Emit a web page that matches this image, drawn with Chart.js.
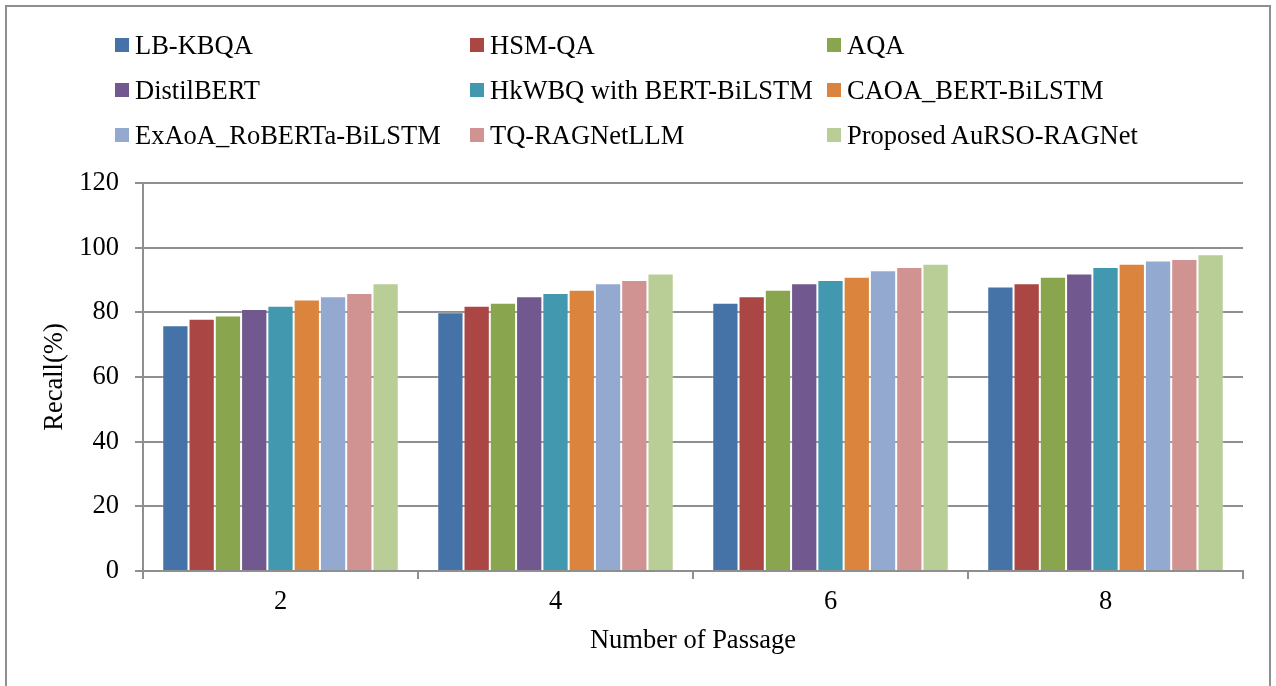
<!DOCTYPE html>
<html>
<head>
<meta charset="utf-8">
<script src="https://cdn.jsdelivr.net/npm/chart.js@4/dist/chart.umd.min.js"></script>
<style>
  html, body { margin: 0; padding: 0; background: #fff; }
  #wrap { position: relative; width: 1276px; height: 686px; overflow: hidden; }
  #frame {
    position: absolute; left: 5px; top: 5px; width: 1266px; height: 700px;
    border: 2px solid #8f8f8f; box-sizing: border-box;
  }
  #chart { position: absolute; left: 0; top: 0; }
  #legend { position: absolute; left: 0; top: 0; }
  .legend-item {
    position: absolute; display: flex; align-items: center; height: 30px;
    font-family: "Liberation Serif", "Times New Roman", serif; font-size: 26.5px;
    line-height: 30px; color: #000; white-space: nowrap;
  }
  .legend-box { width: 14px; height: 14px; margin-right: 6px; }
</style>
</head>
<body>
<div id="wrap">
  <div id="frame"></div>
  <canvas id="chart" width="1276" height="686"></canvas>
  <div id="legend"></div>
</div>
<script>
const categories = ['2', '4', '6', '8'];

const seriesNames = [
  'LB-KBQA', 'HSM-QA', 'AQA',
  'DistilBERT', 'HkWBQ with BERT-BiLSTM', 'CAOA_BERT-BiLSTM',
  'ExAoA_RoBERTa-BiLSTM', 'TQ-RAGNetLLM', 'Proposed AuRSO-RAGNet'
];

const seriesColors = [
  '#4572A7', '#AA4643', '#89A54E',
  '#71588F', '#4198AF', '#DB843D',
  '#93A9CF', '#D19392', '#B9CD96'
];

// Recall(%) per method, one value per number of passages
const lbKbqa     = [76, 80, 83, 88];
const hsmQa      = [78, 82, 85, 89];
const aqa        = [79, 83, 87, 91];
const distilBert = [81, 85, 89, 92];
const hkwbq      = [82, 86, 90, 94];
const caoa       = [84, 87, 91, 95];
const exaoa      = [85, 89, 93, 96];
const tqRag      = [86, 90, 94, 96.5];
const proposed   = [89, 92, 95, 98];

const seriesValues = [lbKbqa, hsmQa, aqa, distilBert, hkwbq, caoa, exaoa, tqRag, proposed];

const yTicks = [0, 20, 40, 60, 80, 100, 120];

const serif = '"Liberation Serif", "Times New Roman", serif';
const gridGray = '#8f8f8f';
const fontSize = 26.5;

const datasets = seriesNames.map((name, i) => ({
  label: name,
  data: seriesValues[i],
  backgroundColor: seriesColors[i],
  borderColor: 'rgba(255,255,255,0.2)',
  borderWidth: 1,
  categoryPercentage: 0.86,
  barPercentage: 1.0
}));

const chart = new Chart(document.getElementById('chart'), {
  type: 'bar',
  data: { labels: categories, datasets: datasets },
  options: {
    responsive: false,
    animation: false,
    devicePixelRatio: 1,
    layout: { padding: { top: 183, right: 33, left: 0, bottom: 0 } },
    plugins: {
      legend: { display: false },
      tooltip: { enabled: false }
    },
    scales: {
      x: {
        offset: true,
        grid: {
          offset: true,
          drawOnChartArea: false,
          drawTicks: true,
          tickLength: 8,
          color: gridGray,
          lineWidth: 2
        },
        border: { display: true, color: gridGray, width: 2 },
        ticks: {
          color: '#000',
          padding: 7,
          font: { family: serif, size: fontSize }
        },
        title: {
          display: true,
          text: 'Number of Passage',
          color: '#000',
          padding: { top: 0, bottom: 29 },
          font: { family: serif, size: fontSize }
        },
        afterFit: (scale) => { scale.height = 115; }
      },
      y: {
        min: 0,
        max: 120,
        afterBuildTicks: (scale) => { scale.ticks = yTicks.map(v => ({ value: v })); },
        grid: {
          color: gridGray,
          lineWidth: 2,
          drawTicks: true,
          tickLength: 8
        },
        border: { display: true, color: gridGray, width: 2 },
        ticks: {
          color: '#000',
          padding: 16,
          font: { family: serif, size: fontSize }
        },
        title: {
          display: true,
          text: 'Recall(%)',
          color: '#000',
          padding: { top: 39, bottom: 0 },
          font: { family: serif, size: fontSize }
        },
        afterFit: (scale) => { scale.width = 143; }
      }
    }
  }
});

// Legend: three columns, built from the chart's datasets
const legendCols = [115, 470, 827];
const legendRows = [45, 90, 135];
const legendEl = document.getElementById('legend');
chart.data.datasets.forEach((ds, i) => {
  const item = document.createElement('div');
  item.className = 'legend-item';
  item.style.left = legendCols[i % 3] + 'px';
  item.style.top = (legendRows[Math.floor(i / 3)] - 15) + 'px';
  const box = document.createElement('span');
  box.className = 'legend-box';
  box.style.background = ds.backgroundColor;
  const txt = document.createElement('span');
  txt.textContent = ds.label;
  item.appendChild(box);
  item.appendChild(txt);
  legendEl.appendChild(item);
});
</script>
</body>
</html>
